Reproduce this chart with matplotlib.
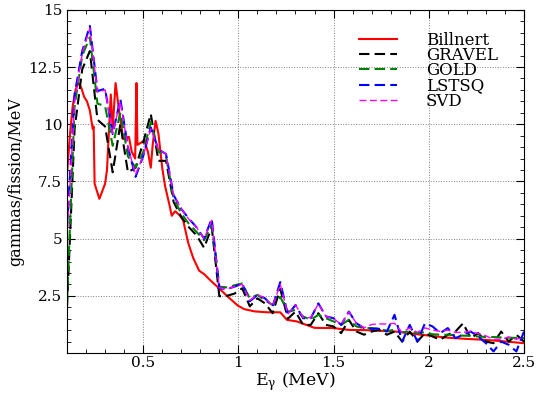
import matplotlib
matplotlib.use('Agg')
import matplotlib.pyplot as plt
import numpy as np
from matplotlib.ticker import MultipleLocator

plt.rcParams['font.family'] = ['DejaVu Serif']
plt.rcParams['mathtext.fontset'] = 'dejavuserif'

# unfolded spectra, energy grid 0.1 .. 2.5 MeV in 0.04 MeV steps
energy = np.round(np.arange(0.10, 2.5001, 0.04), 2)

gravel = [2.0, 9.8, 12.4, 13.2, 10.2, 9.9, 7.9, 10.0, 7.9, 8.1,
          9.2, 10.45, 8.4, 8.4, 6.6, 5.95, 5.5, 5.15, 4.6, 5.5,
          2.48, 2.5, 2.6, 2.83, 2.04, 2.39, 2.17, 1.74, 2.8, 1.5,
          1.81, 1.23, 1.23, 1.74, 1.23, 1.16, 0.87, 1.45, 0.94, 0.8,
          0.94, 1.01, 0.8, 0.94, 0.5, 0.94, 0.5, 0.87, 0.72, 0.58,
          0.8, 0.94, 1.3, 0.65, 0.87, 0.5, 0.43, 0.94, 0.5, 0.8, 0.5]
gold = [2.2, 10.8, 13.0, 13.8, 10.9, 10.8, 9.06, 10.5, 8.6, 8.1,
        8.77, 10.1, 8.8, 8.6, 6.75, 6.1, 5.65, 5.3, 4.93, 5.6,
        2.9, 2.87, 2.96, 3.04, 2.39, 2.54, 2.3, 2.1, 2.45, 1.81,
        1.88, 1.6, 1.45, 1.67, 1.52, 1.38, 1.23, 1.45, 1.16, 1.09,
        1.09, 1.06, 0.97, 1.01, 0.91, 0.94, 0.87, 0.91, 0.82, 0.8,
        0.8, 0.78, 0.76, 0.75, 0.72, 0.7, 0.7, 0.68, 0.67, 0.66, 0.65]
lstsq = [5.5, 11.3, 13.2, 14.3, 11.45, 11.55, 9.57, 11.1, 9.0, 7.7,
         8.6, 9.86, 8.9, 8.7, 6.9, 6.3, 5.87, 5.5, 5.0, 5.87,
         2.83, 2.8, 2.9, 3.04, 2.26, 2.54, 2.39, 2.04, 3.1, 1.67,
         2.1, 1.52, 1.52, 2.17, 1.6, 1.52, 1.23, 1.81, 1.3, 1.09,
         1.06, 1.06, 0.94, 1.67, 0.5, 1.23, 0.5, 1.3, 1.16, 0.87,
         1.09, 0.65, 0.8, 0.94, 0.72, 0.43, 0.07, 0.5, 0.36, 0.07, 0.94]
svd = [5.0, 11.0, 13.1, 14.2, 11.4, 11.5, 9.6, 11.0, 9.0, 7.8,
       8.6, 9.8, 8.9, 8.7, 6.9, 6.3, 5.85, 5.5, 5.0, 5.8,
       2.85, 2.8, 2.9, 3.0, 2.3, 2.55, 2.4, 2.05, 3.0, 1.7,
       2.1, 1.55, 1.55, 2.15, 1.6, 1.5, 1.25, 1.8, 1.3, 1.1,
       1.25, 1.27, 1.27, 1.3, 0.9, 1.1, 0.9, 1.1, 1.0, 0.95,
       1.0, 0.9, 0.9, 0.95, 0.85, 0.75, 0.6, 0.6, 0.7, 0.6, 0.7]

# Billnert reference spectrum
e_bill = [0.100, 0.115, 0.130, 0.145, 0.160, 0.175, 0.190, 0.205, 0.220, 0.235,
          0.240, 0.245, 0.270, 0.300, 0.310, 0.330, 0.340, 0.355, 0.375, 0.395,
          0.410, 0.425, 0.440, 0.458, 0.465, 0.470, 0.490, 0.505, 0.525, 0.540,
          0.550, 0.565, 0.580, 0.600, 0.615, 0.640, 0.650, 0.668, 0.694, 0.710,
          0.737, 0.763, 0.794, 0.820, 0.850, 0.893, 0.945, 0.996, 1.030, 1.085,
          1.150, 1.220, 1.255, 1.307, 1.350, 1.400, 1.500, 1.580, 1.670, 1.825,
          1.930, 2.085, 2.190, 2.290, 2.395, 2.500]
billnert = [7.8, 9.5, 10.8, 11.5, 11.8, 11.6, 11.2, 11.0, 10.6, 9.8,
            9.9, 7.4, 6.74, 7.4, 8.0, 11.3, 9.8, 11.8, 10.5, 9.35,
            9.4, 9.45, 8.8, 8.5, 11.8, 9.1, 9.2, 9.3, 8.8, 8.1,
            9.1, 10.15, 9.6, 8.1, 7.3, 6.4, 6.0, 6.2, 6.0, 5.8,
            4.8, 4.15, 3.6, 3.45, 3.2, 2.87, 2.46, 2.08, 1.92, 1.82,
            1.78, 1.78, 1.45, 1.38, 1.25, 1.1, 1.09, 1.01, 1.0, 0.94,
            0.83, 0.68, 0.62, 0.58, 0.51, 0.43]

fig = plt.figure(figsize=(5.36, 3.94), dpi=100)
ax = fig.add_axes([0.125, 0.104, 0.8526, 0.871])

ax.plot(e_bill, billnert, color='red', lw=1.5, label='Billnert')
ax.plot(energy, gravel, color='black', lw=1.5, ls=(0, (5, 2.5)), label='GRAVEL')
ax.plot(energy, gold, color='green', lw=1.5, ls=(0, (5, 2.5)), label='GOLD')
ax.plot(energy, lstsq, color='blue', lw=1.5, ls=(0, (5, 2.5)), label='LSTSQ')
ax.plot(energy, svd, color='magenta', lw=1.0, ls=(0, (5, 2.5)), label='SVD')

ax.set_xlim(0.1, 2.5)
ax.set_ylim(0, 15)
ax.set_xticks([0.5, 1, 1.5, 2, 2.5])
ax.set_xticklabels(['0.5', '1', '1.5', '2', '2.5'])
ax.set_yticks([2.5, 5, 7.5, 10, 12.5, 15])
ax.set_yticklabels(['2.5', '5', '7.5', '10', '12.5', '15'])
ax.xaxis.set_minor_locator(MultipleLocator(0.1))
ax.yaxis.set_minor_locator(MultipleLocator(0.5))
ax.tick_params(which='both', direction='in', top=True, right=True, labelsize=11)
ax.tick_params(which='major', length=6)
ax.tick_params(which='minor', length=3)
ax.tick_params(axis='x', pad=2)
ax.grid(True, which='major', ls=':', color='gray', lw=0.7)

ax.set_xlabel('E$_{\\mathregular{γ}}$ (MeV)', fontsize=12.5, labelpad=0)
ax.set_ylabel('gammas/fission/MeV', fontsize=11.5, labelpad=3)

ax.legend(loc='upper right', frameon=False, fontsize=12, handlelength=2.3,
          labelspacing=-0.1, handletextpad=1.7, borderaxespad=0.9,
          bbox_to_anchor=(0.99, 1.0))

plt.savefig('out.png', dpi=100)
